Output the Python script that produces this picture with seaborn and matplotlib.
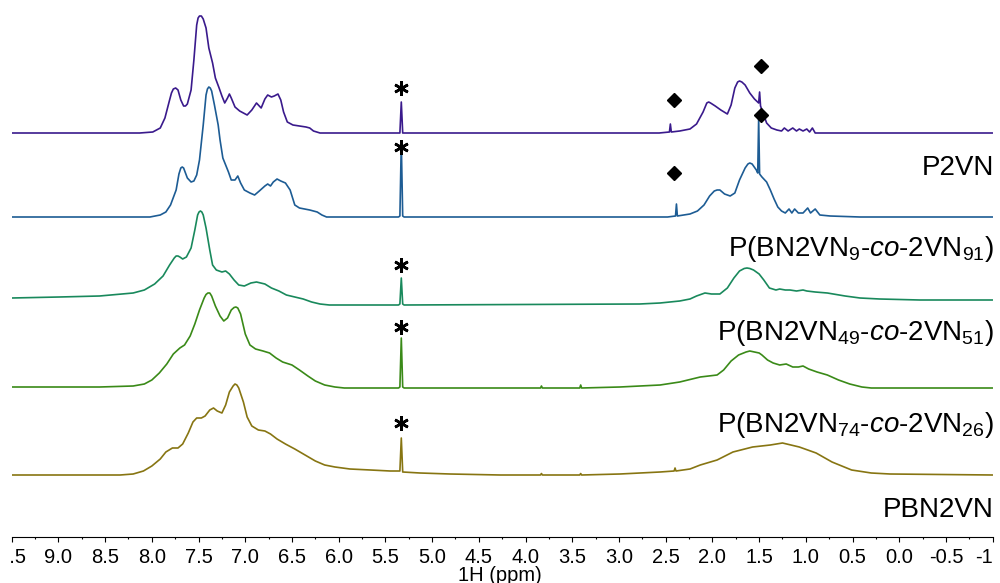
import matplotlib
matplotlib.use("Agg")
import matplotlib.pyplot as plt
from matplotlib.ticker import MultipleLocator, FuncFormatter
from matplotlib.transforms import Bbox, TransformedBbox
import pandas as pd
import seaborn as sns

# ---------------- data (ppm, intensity) ----------------
P2VN_PTS = [(9.5, 0), (8.13, 0), (7.99, 1), (7.91, 5), (7.86, 15), (7.81, 33), (7.79, 40), (7.77, 44),
            (7.745, 45), (7.72, 43), (7.69, 33), (7.66, 27), (7.64, 27), (7.62, 29), (7.58, 43),
            (7.55, 73), (7.52, 108), (7.505, 115), (7.49, 117), (7.47, 117), (7.45, 114),
            (7.42, 105), (7.39, 85), (7.35, 70), (7.32, 55), (7.28, 45), (7.25, 37),
            (7.22, 30), (7.19, 35), (7.17, 39), (7.15, 35), (7.11, 26), (7.06, 22), (6.98, 18),
            (6.93, 23), (6.88, 30), (6.83, 25), (6.79, 34), (6.76, 38), (6.72, 36), (6.69, 37),
            (6.65, 39), (6.62, 33), (6.59, 21), (6.55, 11), (6.49, 8), (6.42, 7), (6.35, 6),
            (6.31, 5), (6.27, 2), (6.20, 0), (5.36, 0), (5.345, 0), (5.33, 31), (5.315, 0),
            (2.57, 0), (2.46, 1), (2.45, 9), (2.44, 1), (2.35, 2), (2.24, 4), (2.17, 9), (2.10, 21),
            (2.06, 30), (2.04, 31), (2.02, 30), (1.97, 27), (1.91, 23), (1.84, 19), (1.80, 28),
            (1.76, 45), (1.73, 51), (1.71, 52), (1.685, 51), (1.65, 48), (1.60, 40), (1.55, 34),
            (1.505, 30), (1.495, 41), (1.485, 27), (1.45, 18),
            (1.42, 10), (1.37, 5), (1.31, 3), (1.26, 2), (1.23, 5), (1.19, 2), (1.14, 5), (1.10, 2),
            (1.07, 4), (1.03, 2), (0.99, 4), (0.96, 1), (0.93, 5), (0.90, 0), (-1.0, 0)]

BN9_PTS = [(9.5, 0), (8.02, 0), (7.91, 2), (7.85, 5), (7.80, 12), (7.74, 27), (7.71, 43), (7.69, 49),
           (7.675, 50), (7.66, 49), (7.62, 39), (7.58, 35), (7.55, 36), (7.52, 42), (7.49, 57),
           (7.45, 92), (7.42, 122), (7.405, 128), (7.39, 130), (7.375, 129), (7.36, 126),
           (7.33, 112), (7.29, 92), (7.27, 77), (7.24, 59),
           (7.21, 52), (7.18, 45), (7.15, 37), (7.11, 37), (7.08, 41), (7.05, 34), (7.01, 27),
           (6.95, 24), (6.90, 22), (6.85, 26), (6.79, 31), (6.76, 33), (6.73, 31), (6.70, 35),
           (6.66, 38), (6.62, 36), (6.57, 34), (6.52, 27), (6.47, 12), (6.42, 9), (6.31, 7),
           (6.23, 5), (6.18, 2), (6.13, 0), (5.36, 0), (5.345, 1), (5.33, 75), (5.315, 1),
           (5.30, 0), (2.48, 0), (2.395, 1), (2.385, 13), (2.375, 1), (2.24, 3), (2.16, 6),
           (2.09, 12), (2.03, 21), (1.98, 26), (1.95, 27), (1.92, 27), (1.87, 23), (1.81, 21),
           (1.76, 24), (1.71, 37), (1.65, 49), (1.62, 53), (1.60, 54), (1.575, 53), (1.53, 47),
           (1.515, 44), (1.505, 99), (1.495, 43), (1.47, 40), (1.42, 35), (1.38, 27), (1.34, 18),
           (1.30, 10), (1.26, 6),
           (1.22, 4), (1.18, 8), (1.15, 4), (1.12, 8), (1.08, 4), (1.03, 4), (0.98, 9), (0.95, 4),
           (0.90, 8), (0.85, 2), (0.74, 1), (0.42, 0), (-1.0, 0)]

BN49_PTS = [(9.5, 7), (8.99, 8), (8.56, 9), (8.20, 12), (8.08, 15), (7.97, 21), (7.88, 29), (7.81, 40),
            (7.76, 47), (7.74, 49), (7.72, 49), (7.70, 48), (7.67, 46), (7.63, 48), (7.58, 57),
            (7.54, 75), (7.51, 90), (7.495, 93), (7.48, 94), (7.465, 93), (7.45, 90), (7.42, 77),
            (7.38, 55), (7.35, 40), (7.31, 35), (7.25, 33),
            (7.21, 34), (7.17, 31), (7.12, 25), (7.07, 20), (7.01, 19), (6.94, 22), (6.88, 23),
            (6.79, 21), (6.72, 17), (6.64, 14), (6.56, 10), (6.47, 8), (6.38, 6), (6.29, 3),
            (6.20, 1), (6.10, 0), (5.36, 0), (5.345, 1), (5.33, 27), (5.315, 1), (5.30, 0),
            (2.78, 1), (2.56, 2), (2.35, 4), (2.24, 6), (2.17, 9), (2.08, 12), (2.01, 11),
            (1.92, 11), (1.84, 17), (1.77, 27), (1.71, 34), (1.66, 36.5), (1.63, 37), (1.60, 36.5),
            (1.56, 35), (1.50, 31),
            (1.45, 25), (1.39, 17), (1.32, 15), (1.28, 16), (1.22, 15), (1.17, 15), (1.10, 14),
            (1.03, 15), (0.99, 14), (0.90, 13), (0.77, 12), (0.58, 9), (0.42, 7), (0.21, 6),
            (-0.22, 5), (-1.0, 5)]

BN74_PTS = [(9.5, 1), (8.56, 1), (8.20, 2), (8.08, 4), (8.00, 8), (7.92, 15), (7.84, 24), (7.77, 34),
            (7.70, 40), (7.65, 43), (7.59, 52), (7.54, 64), (7.49, 78), (7.44, 90), (7.42, 93.5),
            (7.40, 95), (7.38, 95), (7.36, 92), (7.32, 82), (7.27, 72), (7.23, 67), (7.19, 70),
            (7.15, 78), (7.12, 80.5), (7.10, 81), (7.08, 80), (7.05, 74), (7.02, 62), (7.00, 54),
            (6.95, 43), (6.89, 39), (6.81, 37),
            (6.74, 35), (6.67, 30), (6.60, 26), (6.50, 23), (6.42, 18), (6.33, 12), (6.25, 7),
            (6.15, 3), (6.04, 1), (5.94, 0), (5.36, 0), (5.345, 1), (5.33, 50), (5.315, 1),
            (5.30, 0), (3.84, 0), (3.83, 2), (3.82, 0), (3.42, 0), (3.41, 3), (3.40, 0),
            (2.99, 1), (2.56, 3), (2.35, 6), (2.13, 11), (1.95, 13), (1.88, 18), (1.80, 27),
            (1.72, 33), (1.64, 36), (1.60, 37), (1.55, 36), (1.50, 35), (1.47, 33), (1.41, 28),
            (1.35, 25), (1.28, 23), (1.21, 24), (1.14, 21), (1.08, 21), (1.03, 22), (0.97, 19),
            (0.88, 16), (0.77, 13), (0.65, 8), (0.53, 4), (0.40, 1), (0.30, 0), (-1.0, 0)]

PBN_PTS = [(9.5, 0), (8.34, 0), (8.20, 1), (8.09, 4), (8.00, 9), (7.91, 16), (7.85, 23), (7.78, 27),
           (7.72, 27), (7.67, 31), (7.61, 42), (7.56, 53), (7.52, 57), (7.47, 57), (7.43, 59),
           (7.38, 65), (7.34, 67), (7.30, 64), (7.25, 62), (7.21, 70), (7.17, 83), (7.13, 89),
           (7.11, 91), (7.09, 90), (7.07, 87), (7.02, 73), (6.98, 58), (6.93, 49), (6.86, 45),
           (6.79, 44), (6.73, 41), (6.66, 36), (6.57, 31), (6.47, 26), (6.36, 20), (6.25, 14),
           (6.15, 10), (6.04, 8), (5.88, 6), (5.66, 5), (5.45, 4), (5.345, 4), (5.33, 37), (5.315, 3),
           (5.13, 2), (4.81, 1), (4.27, 0), (3.84, 0), (3.83, 1.5), (3.82, 0), (3.42, 0),
           (3.41, 1.5), (3.40, 0), (2.99, 1), (2.56, 3), (2.41, 4), (2.40, 7), (2.39, 4),
           (2.24, 6), (2.13, 10), (1.95, 15), (1.78, 23), (1.57, 28), (1.38, 30), (1.25, 32),
           (1.07, 28), (0.89, 22), (0.72, 13), (0.51, 5), (0.30, 2), (0.10, 1), (-1.0, 0)]

SPECTRA = [P2VN_PTS, BN9_PTS, BN49_PTS, BN74_PTS, PBN_PTS]
LABELS = ["P2VN",
          r"P(BN2VN$_{9}$-$\mathit{co}$-2VN$_{91}$)",
          r"P(BN2VN$_{49}$-$\mathit{co}$-2VN$_{51}$)",
          r"P(BN2VN$_{74}$-$\mathit{co}$-2VN$_{26}$)",
          "PBN2VN"]
OFFSETS = [404, 320, 232, 149, 62]
LABEL_Y = [362, 281, 197, 105, 20]
COLORS = ["#3a1a8c", "#1d5c94", "#19895c", "#3a8a18", "#877512"]

# solvent (*) and impurity (diamond) markers
STAR_PPM = 5.33
STAR_Y = [449, 390, 272, 210, 114]
DIAMOND_PPM = [2.41, 1.48, 2.41, 1.48]
DIAMOND_Y = [437, 471, 364, 422]

# ---------------- styling ----------------
sns.set_theme(style="white")
plt.rcParams["font.family"] = ["Liberation Sans", "DejaVu Sans"]
plt.rcParams["mathtext.fontset"] = "custom"
plt.rcParams["mathtext.rm"] = "Liberation Sans"
plt.rcParams["mathtext.it"] = "Liberation Sans:italic"
plt.rcParams["mathtext.bf"] = "Liberation Sans:bold"
plt.rcParams["axes.unicode_minus"] = False

fig = plt.figure(figsize=(10, 5.83), dpi=100)
ax = fig.add_axes([0.0117, 46 / 583, 0.981, 537 / 583])

for pts, off, col in zip(SPECTRA, OFFSETS, COLORS):
    df = pd.DataFrame(pts, columns=["ppm", "I"])
    df["y"] = df["I"] + off
    sns.lineplot(data=df, x="ppm", y="y", color=col, lw=1.2, ax=ax,
                 estimator=None, sort=False, legend=False,
                 solid_joinstyle="round", solid_capstyle="round")

for lab, ly in zip(LABELS, LABEL_Y):
    ax.text(-1.012, ly, lab, ha="right", va="baseline", fontsize=20, color="black")

ax.plot([STAR_PPM] * len(STAR_Y), STAR_Y, ls="none", marker=(6, 2, 0), ms=10.5,
        mew=1.9, color="black")
ax.plot(DIAMOND_PPM, DIAMOND_Y, ls="none", marker="D", ms=7.2, color="black")

ax.set_xlim(9.5, -1.0)
ax.set_ylim(0, 537)
for s in ["left", "right", "top"]:
    ax.spines[s].set_visible(False)
ax.spines["bottom"].set_linewidth(0.8)
ax.spines["bottom"].set_color("black")
ax.set_yticks([])
ax.set_ylabel("")

ax.xaxis.set_major_locator(MultipleLocator(0.5))
ax.xaxis.set_minor_locator(MultipleLocator(0.25))
ax.xaxis.set_major_formatter(FuncFormatter(lambda v, p: "-1" if abs(v + 1) < 1e-6 else f"{v:.1f}"))
ax.tick_params(axis="x", which="major", direction="out", length=3.3, width=0.8, color="black",
               labelsize=14.5, pad=4.3, bottom=True, labelcolor="black")
ax.tick_params(axis="x", which="minor", direction="out", length=1.6, width=0.8, color="black",
               bottom=True)

ax.set_xlabel("1H (ppm)", fontsize=14.5, color="black")
ax.xaxis.set_label_coords(0.498, -(581 - 537) / 537)
ax.xaxis.label.set_va("baseline")

fig.canvas.draw()
clip = TransformedBbox(Bbox.from_extents(0.0102, -1, 1.0, 2), fig.transFigure)
for t in ax.get_xticklabels():
    t.set_clip_on(True)
    t.set_clip_box(clip)
    if t.get_text() == "-1":
        t.set_ha("right")

fig.savefig("out.png", dpi=100)
